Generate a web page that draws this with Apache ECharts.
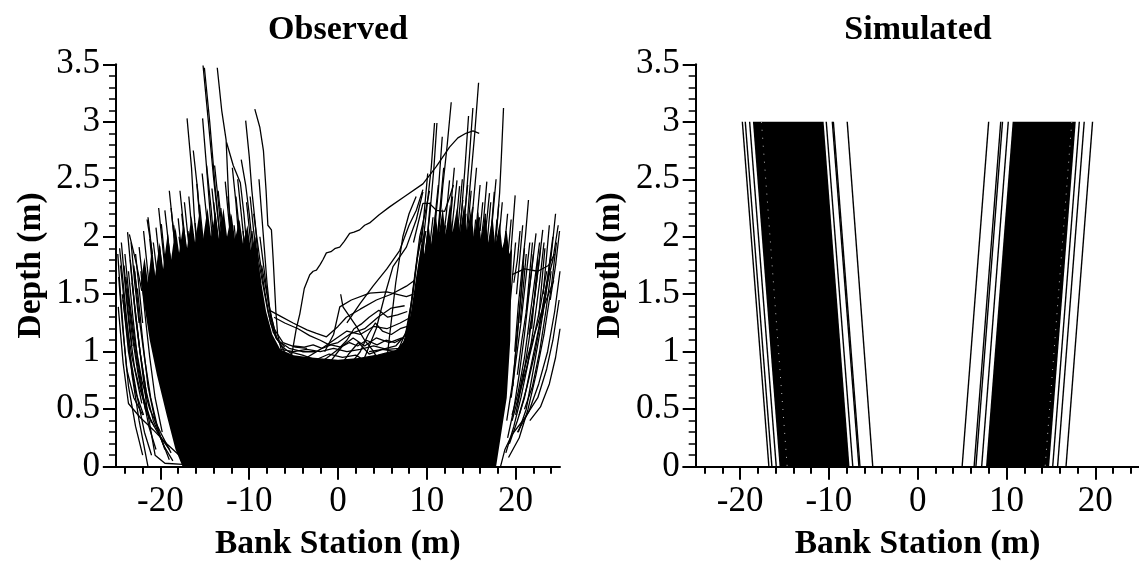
<!DOCTYPE html>
<html><head><meta charset="utf-8">
<script src="https://cdn.jsdelivr.net/npm/echarts@6/dist/echarts.min.js"></script>
<style>html,body{margin:0;padding:0;background:#fff}#c{width:1139px;height:561px}</style>
</head><body><div id="c"></div>
<script>
// ---- tick values ----
const xTickLabels = [-20, -10, 0, 10, 20];
const xMinorTicks = [-24, -22, -18, -16, -14, -12, -8, -6, -4, -2, 2, 4, 6, 8, 12, 14, 16, 18, 22, 24];
const yTickLabels = [0, 0.5, 1, 1.5, 2, 2.5, 3, 3.5];

// ---- Observed: dense core of overlapping profiles (outline) ----
const obsCore = [[-17.5,0],[-18.3,0.15],[-19.3,0.45],[-20.4,0.8],[-21.2,1.1],[-21.9,1.45],[-22.2,1.6],
 [-21.8,1.82],[-21.4,1.6],[-21.0,1.88],[-20.6,1.66],[-20.1,1.95],[-19.7,1.72],[-19.2,2.02],[-18.8,1.8],[-18.3,2.08],[-17.9,1.86],[-17.4,2.12],[-17.0,1.9],[-16.5,2.18],[-16.1,1.95],[-15.6,2.22],[-15.2,1.98],[-14.7,2.25],[-14.3,2.0],[-13.8,2.22],[-13.4,1.98],[-12.9,2.25],[-12.5,2.0],[-12.0,2.2],[-11.6,1.98],[-11.1,2.15],[-10.7,1.94],[-10.2,2.1],[-9.8,1.88],[-9.3,2.0],[-9.0,1.78],
 [-8.6,1.58],[-8.1,1.35],[-7.4,1.15],[-6.5,1.02],[-5,0.97],[-3,0.95],[0,0.93],[3,0.95],[5,0.98],[6.5,1.01],[7.5,1.1],[8.2,1.33],[8.7,1.6],[9.1,1.8],
 [9.5,2.0],[9.7,1.85],[10.2,2.1],[10.5,1.92],[11.0,2.2],[11.3,2.0],[11.8,2.25],[12.1,2.02],[12.6,2.28],[12.9,2.04],[13.4,2.25],[13.7,2.02],[14.2,2.28],[14.5,2.02],[15.0,2.25],[15.3,2.0],[15.8,2.22],[16.1,1.98],[16.6,2.2],[16.9,1.95],[17.4,2.18],[17.7,1.92],[18.2,2.12],[18.5,1.9],[19.0,2.05],[19.3,1.85],[19.6,1.9],
 [19.5,1.6],[19.4,1.1],[19,0.6],[18.3,0.25],[17.8,0]];

// ---- Observed: individual left-bank profiles ----
const obsLeftBank = [
 [[-15.2,3.49],[-14.6,3.0],[-14.0,2.5],[-13.3,2.0],[-12.8,1.7]],
 [[-15.05,3.47],[-14.45,3.0],[-13.8,2.4],[-13.1,1.85]],
 [[-13.6,3.47],[-13.1,3.1],[-12.6,2.84],[-12.3,2.3],[-12.0,1.8]],
 [[-12.55,2.82],[-11.8,2.62],[-11.0,2.47],[-10.6,2.2],[-10.2,1.85]],
 [[-17.0,3.03],[-16.5,2.6],[-16.2,2.2],[-15.8,1.8]],
 [[-15.25,3.03],[-14.8,2.6],[-14.4,2.2],[-14.0,1.85]],
 [[-10.4,3.01],[-10.0,2.7],[-9.7,2.4],[-9.3,2.1],[-9.0,1.8]],
 [[-9.37,3.11],[-8.8,2.95],[-8.4,2.75],[-8.1,2.4],[-7.9,2.1],[-7.5,2.06],[-7.3,1.8],[-7.0,1.35],[-6.8,1.15],[-6.4,1.02]],
 [[-10.9,2.67],[-10.4,2.45],[-10.0,2.2],[-9.6,1.9]],
 [[-21.4,2.17],[-21.0,1.9],[-20.6,1.6],[-20.2,1.3]],
 [[-23.7,2.04],[-23.3,1.7],[-22.8,1.3],[-22.3,1.0],[-21.5,0.6]],
 [[-24.6,1.9],[-24.2,1.6],[-23.7,1.2],[-23.2,0.8],[-22.4,0.4],[-21.4,0]],
 [[-19.9,2.11],[-19.5,1.8],[-19.1,1.5]],
 [[-19.5,2.23],[-19.1,1.95],[-18.7,1.7]],
 [[-17.6,2.2],[-17.2,1.9],[-16.8,1.7]],
 [[-15.9,2.46],[-15.5,2.1],[-15.1,1.8]],
 [[-14.8,2.62],[-14.3,2.25],[-13.9,1.9]],
 [[-12.7,2.48],[-12.3,2.15],[-11.9,1.85]],
 [[-22.4,1.91],[-22.1,1.7],[-21.7,1.4]],
 [[-18.5,2.1],[-18.1,1.8]],
 [[-16.8,2.35],[-16.4,2.0],[-16.0,1.8]],
 [[-13.5,2.4],[-13.1,2.1],[-12.8,1.85]],
 [[-11.5,2.35],[-11.1,2.05],[-10.8,1.85]],
 [[-12.2,2.2],[-11.8,1.9]],
 [[-14.0,2.3],[-13.6,2.0]],
 [[-17.9,2.0],[-17.5,1.75]],
 [[-9.9,2.35],[-9.5,2.05],[-9.1,1.8],[-8.7,1.6]],
 [[-20.8,1.95],[-20.4,1.7]],
 [[-23.0,1.75],[-22.6,1.5]],
 [[-24.8,1.85],[-24.5,1.5],[-24.1,1.1],[-23.6,0.7],[-22.8,0.35],[-22,0.1]],
 [[-24.75,1.39],[-24.2,0.9],[-23.6,0.55],[-22.3,0.43],[-20.8,0.32],[-19.3,0.2],[-17.05,0.04]],
 [[-23.2,1.6],[-22.3,1.0],[-21.5,0.5],[-20.6,0.1],[-19.5,0.03],[-17.5,0.02]],
 [[-24.3,1.5],[-23.5,1.0],[-22.6,0.6],[-21.8,0.3],[-21.0,0.1]],
 [[-23.5,2.02],[-22.75,1.78],[-22.1,1.53]],
 [[-21.5,2.15],[-20.9,1.85]],
 [[-18.0,2.16],[-17.6,1.85]],
 [[-23.9,1.65],[-23.0,1.1],[-22.2,0.7],[-21.3,0.35],[-20.5,0.15]],
 [[-16.3,2.75],[-15.8,2.4],[-15.4,2.0]],
 [[-11.9,2.6],[-11.5,2.3],[-11.2,2.0]],
 [[-8.9,2.5],[-8.6,2.2],[-8.3,1.9],[-8.0,1.6],[-7.6,1.3],[-7.0,1.12],[-6.0,1.04]],
 [[-9.5,2.2],[-8.8,1.8],[-8.2,1.5],[-7.6,1.25],[-6.8,1.1],[-5.5,1.03],[-4,1.0],[-2.5,1.0]],
 [[-8.8,2.0],[-8.3,1.7],[-7.8,1.4],[-7.2,1.2],[-6.2,1.08],[-4.8,1.04],[-3.5,1.03]],
 [[-9.2,1.9],[-8.5,1.6],[-7.9,1.35],[-7.3,1.17],[-6.4,1.05],[-5.2,0.98]],
 [[-8.6,1.75],[-8.0,1.5],[-7.5,1.3],[-6.9,1.12],[-6.0,1.0]],
 // fringe above the left core
 [[-21.9,2.05],[-21.5,1.75],[-21.1,1.45]],
 [[-21.2,1.98],[-20.8,1.68],[-20.4,1.4]],
 [[-20.5,2.08],[-20.1,1.78],[-19.7,1.5]],
 [[-20.1,1.92],[-19.7,1.62],[-19.3,1.35]],
 [[-19.2,2.02],[-18.8,1.72],[-18.4,1.45]],
 [[-18.8,2.25],[-18.4,1.95],[-18.0,1.66]],
 [[-18.3,1.98],[-17.9,1.68],[-17.5,1.4]],
 [[-17.3,2.3],[-16.9,2.0],[-16.5,1.7]],
 [[-16.9,2.05],[-16.5,1.75],[-16.1,1.45]],
 [[-16.1,2.12],[-15.7,1.82],[-15.3,1.52]],
 [[-15.6,2.28],[-15.2,1.98],[-14.8,1.7]],
 [[-15.3,2.55],[-14.9,2.25],[-14.5,1.95]],
 [[-14.6,2.1],[-14.2,1.8],[-13.8,1.5]],
 [[-14.2,2.42],[-13.8,2.12],[-13.4,1.82]],
 [[-13.9,2.62],[-13.5,2.32],[-13.1,2.0]],
 [[-13.2,2.25],[-12.8,1.95],[-12.4,1.65]],
 [[-12.9,2.05],[-12.5,1.75],[-12.1,1.45]],
 [[-12.4,2.35],[-12.0,2.05],[-11.6,1.75]],
 [[-11.7,2.1],[-11.3,1.8],[-10.9,1.5]],
 [[-11.3,2.5],[-10.9,2.2],[-10.5,1.9]],
 [[-10.7,2.05],[-10.3,1.75],[-9.9,1.5]],
 [[-10.3,2.3],[-9.9,2.0],[-9.5,1.72]],
 [[-9.7,2.05],[-9.3,1.78],[-8.9,1.5]],
 [[-16.5,1.98],[-16.1,1.68],[-15.7,1.4]],
 [[-17.8,2.4],[-17.4,2.1],[-17.0,1.8]],
 [[-19.0,2.4],[-18.6,2.1],[-18.2,1.8]],
 [[-20.2,2.25],[-19.8,1.95],[-19.4,1.65]],
 [[-22.8,1.85],[-22.4,1.55],[-22.0,1.25]],
 [[-23.3,1.95],[-22.9,1.6],[-22.4,1.25]],
 [[-24.1,1.75],[-23.7,1.4],[-23.2,1.05]],
 // hatch on the outer left slope
 [[-24.5,1.75],[-23.9,1.3],[-23.2,0.95],[-22.4,0.7],[-21.4,0.45],[-20.2,0.28],[-19,0.15]],
 [[-24.0,1.85],[-23.5,1.45],[-22.9,1.1],[-22.1,0.75],[-21.2,0.5],[-20.0,0.3],[-18.8,0.12]],
 [[-23.4,1.8],[-22.9,1.4],[-22.3,1.0],[-21.6,0.65],[-20.8,0.4],[-19.6,0.18],[-18.6,0.05]],
 [[-22.9,1.7],[-22.4,1.3],[-21.8,0.95],[-21.1,0.6],[-20.2,0.3],[-19.0,0.06]],
 [[-24.7,1.65],[-24.3,1.25],[-23.8,0.85],[-23.0,0.6],[-22.0,0.45]],
 [[-23.8,1.55],[-23.2,1.15],[-22.5,0.8],[-21.7,0.5],[-20.7,0.35]],
 [[-24.2,1.45],[-23.6,1.0],[-22.8,0.65],[-21.9,0.45]],
 [[-22.6,1.55],[-22.0,1.1],[-21.4,0.7],[-20.6,0.4],[-19.5,0.15]],
 [[-24.4,1.95],[-24.0,1.6],[-23.5,1.2],[-22.9,0.85],[-22.1,0.55]],
 [[-23.6,1.7],[-23.1,1.3],[-22.6,0.95],[-21.9,0.6],[-21.0,0.38]],
 [[-22.2,1.7],[-21.7,1.3],[-21.2,0.95],[-20.6,0.6],[-19.8,0.3]]
];

// ---- Observed: profiles crossing the channel centre ----
const obsCentre = [
 [[-5.4,0.9],[-5.06,1.04],[-4.7,1.2],[-4.3,1.33],[-3.8,1.55],[-3.18,1.67],[-2.8,1.7],[-2.43,1.71],[-2.0,1.76],[-1.7,1.8],[-1.31,1.86],[-0.8,1.87],[-0.3,1.9],[0.19,1.91],[0.7,1.96],[1.31,2.03],[1.8,2.04],[2.44,2.06],[3.0,2.1],[3.56,2.12],[4.6,2.19],[5.81,2.26],[7.5,2.35],[9.56,2.46],[11.06,2.61],[12.56,2.78],[13.5,2.86],[14.4,2.9],[15.2,2.92],[15.9,2.9]],
 [[1.0,1.25],[2.5,1.42],[3.94,1.57],[5.5,1.72],[6.94,1.88],[8.0,2.1],[8.82,2.23],[9.56,2.41]],
 [[5.3,0.8],[5.6,1.0],[6.5,1.6],[7.3,2.0],[8.0,2.2],[8.8,2.35]],
 [[3.0,0.95],[4.3,1.2],[5.3,1.5],[6.19,1.74],[7.7,1.91],[8.82,2.15],[9.56,2.39]],
 [[-7.7,1.36],[-6.5,1.31],[-5.06,1.25],[-3.5,1.19],[-2.43,1.16],[-1.3,1.13],[0.0,1.22],[0.94,1.3],[2.5,1.37],[4.32,1.45],[6,1.5],[7.7,1.57],[8.6,1.62]],
 [[-1.5,1.0],[-0.5,1.15],[0.2,1.39],[1.5,1.45],[3.56,1.51],[5.5,1.52],[7.7,1.48],[8.5,1.5]],
 [[-3.5,0.95],[-2,1.02],[-0.5,1.1],[1,1.18],[2.5,1.15],[4,1.22],[5.5,1.2],[7,1.25],[8.2,1.3]],
 [[-1,0.9],[0.5,1.05],[1.7,1.12],[3,1.05],[4.3,1.12],[5.8,1.08],[7.2,1.12]],
 [[0,0.85],[1.2,0.98],[2.3,1.08],[3.5,0.98],[5,1.02],[6.5,1.0],[7.8,1.05]],
 [[-5.5,1.0],[-4,0.97],[-2.5,0.93],[-1,0.98],[0.5,0.95],[2,0.97],[3.5,0.9],[5,0.95],[6.5,0.93],[8,0.98]],
 [[-6.5,1.02],[-5,1.0],[-3.5,1.02],[-2,1.0],[-0.5,1.03],[1,1.0],[2.5,1.02],[4,1.05],[5.5,1.02],[7,1.03],[7.8,1.1]],
 [[-7.2,1.3],[-6,1.25],[-4.5,1.2],[-3.2,1.14],[-2,1.1],[-1,1.06],[0,1.08],[1.5,1.16],[3,1.2],[4.5,1.3],[6,1.38],[7.5,1.4]],
 [[0.3,1.5],[0.56,1.39],[2.07,1.22],[3.0,1.1],[3.94,1.01],[4.6,0.92]],
 [[-6,0.95],[-4.5,0.92],[-3,0.9],[-1.5,0.88],[0,0.9],[1.5,0.92],[3,0.95],[4.5,0.97],[6,1.0],[7.2,1.02]],
 [[-5,1.05],[-3.8,1.04],[-2.8,1.06],[-1.8,1.03],[-0.8,1.06],[0.3,1.04],[1.3,1.08],[2.2,1.05],[3.2,1.1],[4.4,1.06],[5.4,1.1],[6.4,1.08],[7.4,1.12]],
 [[1.5,0.9],[2.5,1.0],[3.4,1.15],[4.2,1.25],[5,1.18],[6,1.15],[7,1.2],[7.8,1.22]],
 [[-2.5,0.88],[-1.2,0.95],[0,1.02],[1,1.1],[1.8,1.2],[2.6,1.24],[3.5,1.3],[4.6,1.36],[5.6,1.3],[6.7,1.32],[7.8,1.35]],
 [[3.5,1.0],[5,1.02],[6.5,1.05],[7.6,1.15],[8.2,1.4],[8.7,1.7],[9.2,2.0],[9.8,2.2],[10.3,2.4]],
 [[6,0.98],[7.3,1.05],[8,1.25],[8.5,1.55],[9.0,1.85],[9.6,2.1]],
 [[5.5,0.95],[6.8,1.02],[7.8,1.2],[8.4,1.5],[8.9,1.8],[9.5,2.05]],
 [[7,1.0],[7.9,1.15],[8.6,1.45],[9.2,1.75],[9.9,2.05]],
 [[8.5,1.95],[9.56,2.29],[10.3,2.29],[11.07,2.23],[12,2.22],[12.6,2.35],[13,2.45]]
];

// ---- Observed: individual right-bank profiles ----
const obsRightBank = [
 [[15.83,3.34],[15.4,2.9],[14.8,2.38],[14.25,1.8]],
 [[12.75,3.17],[12.3,2.8],[11.8,2.44],[11.3,2.0]],
 [[10.87,2.99],[10.5,2.6],[10.0,2.25],[9.5,1.9]],
 [[11.14,2.99],[10.8,2.6],[10.35,2.2],[9.9,1.9]],
 [[15.19,3.12],[14.8,2.7],[14.3,2.2],[13.9,1.9]],
 [[18.64,3.12],[18.4,2.7],[18.2,2.38],[17.8,2.0],[17.5,1.7]],
 [[11.74,2.87],[11.3,2.4],[10.8,2.0]],
 [[13.4,2.49],[13.0,2.2],[12.6,1.9]],
 [[16.76,2.48],[16.4,2.15],[16.0,1.9]],
 [[17.6,2.39],[17.3,2.1],[17,1.9]],
 [[19.95,2.36],[19.6,2.0],[19.3,1.7]],
 [[21.45,2.32],[21.1,2.0],[20.7,1.7],[20.3,1.4],[19.9,1.0]],
 [[24.5,2.2],[24.1,1.9],[23.6,1.6],[23.0,1.3]],
 [[12.56,2.49],[12.2,2.2],[11.8,1.95]],
 [[14.06,2.32],[13.7,2.05],[13.4,1.85]],
 [[15.94,2.17],[15.6,1.95]],
 [[19.1,2.2],[18.8,1.95],[18.5,1.75]],
 [[15.19,2.26],[14.9,2.0]],
 [[17.06,2.38],[16.7,2.1],[16.4,1.9]],
 [[13.69,2.44],[13.3,2.1],[13,1.9]],
 [[10.7,2.17],[10.3,1.9],[9.9,1.7]],
 [[11.3,2.45],[10.9,2.15],[10.5,1.9]],
 [[14.6,2.45],[14.2,2.15],[13.9,1.95]],
 [[18.1,2.28],[17.8,2.0]],
 [[20.5,2.05],[20.2,1.8],[19.8,1.6]],
 [[16.3,2.3],[16.0,2.05]],
 [[14.7,3.05],[14.3,2.6],[13.9,2.2],[13.5,1.9]],
 [[24.9,1.45],[24.2,1.1],[23.5,0.85],[22.5,0.6],[21,0.42],[19.6,0.28],[18.8,0.15],[18.3,0]],
 [[24.3,1.62],[22.9,1.34],[21.7,1.05],[20.8,0.8],[20.2,0.55]],
 [[24.8,2.1],[24.2,1.8],[23.4,1.55],[22.6,1.2],[21.8,0.9],[21,0.6],[20.2,0.4],[19.3,0.2]],
 [[23.5,1.7],[22.8,1.4],[22,1.1],[21.2,0.85],[20.3,0.6],[19.6,0.4]],
 [[22.3,2.03],[21.8,1.7],[21.3,1.4],[20.7,1.1],[20.2,0.8]],
 [[23.06,2.06],[22.6,1.75],[22.1,1.45],[21.5,1.15]],
 [[24,1.86],[23.4,1.5],[22.7,1.15],[21.9,0.8],[21.2,0.5],[20.3,0.3]],
 [[19.6,1.67],[21,1.72],[22.5,1.7],[23.7,1.75],[24.4,1.85]],
 [[24.95,2.05],[24.5,1.75],[23.9,1.45]],
 [[21,1.9],[20.6,1.5],[20.1,1.1],[19.7,0.7]],
 [[22.8,1.9],[22.2,1.5],[21.5,1.1],[20.8,0.75],[20,0.45]],
 // fringe above the right core
 [[9.8,2.05],[9.45,1.75],[9.1,1.5]],
 [[10.4,2.3],[10.05,2.0],[9.7,1.7]],
 [[11.0,2.2],[10.65,1.9],[10.3,1.6]],
 [[11.6,2.3],[11.25,2.0],[10.9,1.7]],
 [[12.1,2.1],[11.75,1.8],[11.4,1.5]],
 [[12.9,2.35],[12.55,2.05],[12.2,1.75]],
 [[13.3,2.15],[12.95,1.85],[12.6,1.55]],
 [[14.0,2.5],[13.65,2.2],[13.3,1.9]],
 [[14.4,2.2],[14.05,1.9],[13.7,1.6]],
 [[15.0,2.4],[14.65,2.1],[14.3,1.8]],
 [[15.5,2.15],[15.15,1.85],[14.8,1.55]],
 [[16.0,2.45],[15.65,2.15],[15.3,1.85]],
 [[16.6,2.2],[16.25,1.9],[15.9,1.6]],
 [[17.2,2.3],[16.85,2.0],[16.5,1.7]],
 [[17.9,2.15],[17.55,1.85],[17.2,1.55]],
 [[18.5,2.3],[18.15,2.0],[17.8,1.7]],
 [[18.9,2.05],[18.55,1.75],[18.2,1.45]],
 [[19.5,2.15],[19.15,1.85],[18.8,1.55]],
 [[20.0,1.95],[19.65,1.65],[19.3,1.35]],
 [[20.8,2.1],[20.45,1.8],[20.1,1.5]],
 [[21.2,1.85],[20.85,1.55],[20.5,1.25]],
 [[21.9,1.95],[21.55,1.65],[21.2,1.35]],
 [[22.5,1.8],[22.15,1.5],[21.8,1.2]],
 [[23.3,1.9],[22.95,1.6],[22.6,1.3]],
 [[23.8,2.1],[23.45,1.8],[23.1,1.5]],
 [[13.1,2.6],[12.75,2.3],[12.4,2.0]],
 [[15.6,2.6],[15.25,2.3],[14.9,2.0]],
 [[17.8,2.5],[17.45,2.2],[17.1,1.9]],
 [[11.9,2.6],[11.55,2.3],[11.2,2.0]],
 [[10.1,2.55],[9.75,2.25],[9.4,1.95]],
 // hatch on the outer right slope
 [[24.6,1.95],[24.0,1.55],[23.2,1.15],[22.3,0.8],[21.4,0.5],[20.4,0.25],[19.2,0.08]],
 [[25.0,1.7],[24.4,1.35],[23.6,1.0],[22.6,0.72],[21.5,0.48],[20.2,0.3]],
 [[23.2,1.95],[22.7,1.6],[22.1,1.25],[21.4,0.9],[20.6,0.6],[19.8,0.35],[18.9,0.12]],
 [[22.0,1.85],[21.5,1.5],[21.0,1.15],[20.4,0.8],[19.8,0.5],[19.1,0.25]],
 [[24.2,2.0],[23.7,1.7],[23.0,1.35],[22.2,1.0],[21.3,0.7],[20.4,0.45]],
 [[20.9,1.75],[20.5,1.4],[20.1,1.05],[19.6,0.7],[19.0,0.4]],
 [[25.0,1.2],[24.5,0.95],[23.8,0.72],[22.8,0.52],[21.6,0.4]],
 [[21.6,1.95],[21.1,1.6],[20.6,1.25],[20.0,0.9],[19.5,0.6]],
 [[22.7,1.95],[22.2,1.65],[21.6,1.3],[21.0,0.95],[20.3,0.65],[19.6,0.45]],
 [[24.0,1.7],[23.4,1.35],[22.7,1.0],[21.9,0.7],[21.0,0.5]]
];

// ---- Simulated: straight bank lines from depth 3 m to bed ----
const simTopDepth = 3;
const simBedDepth = 0;
const simLeftTopX = [-19.75, -19.42, -18.93, -10.3, -9.62, -9.5, -7.94];
const simLeftBedX = [-16.76, -16.42, -15.93, -7.31, -6.62, -6.5, -5.06];
const simRightTopX = [7.99, 9.35, 9.55, 10.2, 18.2, 18.75, 19.69];
const simRightBedX = [5.0, 6.35, 6.55, 7.2, 15.2, 15.75, 16.7];
// dense bands (edges of the many overlapping simulated lines)
const simBandTopX = [[-18.56, -10.6], [10.69, 17.8]];
const simBandBedX = [[-15.56, -7.68], [7.69, 14.8]];
const simGapTopX = [-17.6, 17.35];
const simGapBedX = [-14.7, 14.35];

const FONT = 'Liberation Serif';
const chart = echarts.init(document.getElementById('c'), null, {renderer: 'canvas'});

const grids = [
  {left: 103.6, top: 64.3, width: 456.4, height: 402.4, containLabel: false, outerBoundsMode: 'none'},
  {left: 683.3, top: 64.3, width: 456.4, height: 402.4, containLabel: false, outerBoundsMode: 'none'}
];

function xMajor(g) {
  return {
    type: 'value', gridIndex: g, min: -26.4, max: 25, position: 'bottom',
    axisLine: {show: true, onZero: false, lineStyle: {color: '#000', width: 2}},
    axisTick: {show: true, length: 13, customValues: xTickLabels, lineStyle: {color: '#000', width: 2}},
    axisLabel: {show: true, customValues: xTickLabels, color: '#000', fontFamily: FONT, fontSize: 35, margin: 18, formatter: v => String(v)},
    splitLine: {show: false},
    name: 'Bank Station (m)', nameLocation: 'middle', nameGap: 61,
    nameTextStyle: {fontFamily: FONT, fontWeight: 'bold', fontSize: 33.5, color: '#000', padding: [0, 0, 0, 12]}
  };
}
function xMinor(g) {
  return {
    type: 'value', gridIndex: g, min: -26.4, max: 25, position: 'bottom',
    axisLine: {show: false, onZero: false},
    axisTick: {show: true, length: 7, customValues: xMinorTicks, lineStyle: {color: '#000', width: 2}},
    axisLabel: {show: false},
    splitLine: {show: false}
  };
}
function yAx(g) {
  return {
    type: 'value', gridIndex: g, min: 0, max: 3.5, interval: 0.5, position: 'left', offset: -12.4,
    axisLine: {show: true, onZero: false, lineStyle: {color: '#000', width: 2}},
    axisTick: {show: true, length: 13, lineStyle: {color: '#000', width: 2}},
    minorTick: {show: true, splitNumber: 5, length: 7, lineStyle: {color: '#000', width: 1.5}},
    axisLabel: {color: '#000', fontFamily: FONT, fontSize: 35, margin: 16},
    splitLine: {show: false}, minorSplitLine: {show: false},
    name: 'Depth (m)', nameLocation: 'middle', nameGap: 68, nameRotate: 90,
    nameTextStyle: {fontFamily: FONT, fontWeight: 'bold', fontSize: 33.5, color: '#000'}
  };
}

function lineSeries(pts, xi, yi, width) {
  return {
    type: 'line', xAxisIndex: xi, yAxisIndex: yi, data: pts,
    symbol: 'none', showSymbol: false, silent: true, animation: false,
    lineStyle: {color: '#000', width: width}, z: 3
  };
}
function polySeries(poly, xi, yi) {
  return {
    type: 'custom', xAxisIndex: xi, yAxisIndex: yi, data: [[poly[0][0], poly[0][1]]],
    silent: true, animation: false, z: 2,
    renderItem: (params, api) => ({
      type: 'polygon',
      shape: {points: poly.map(p => api.coord(p))},
      style: {fill: '#000'}
    })
  };
}

const series = [];
// observed
series.push(polySeries(obsCore, 0, 0));
[...obsLeftBank, ...obsCentre, ...obsRightBank].forEach(p => series.push(lineSeries(p, 0, 0, 1.3)));
// simulated
simBandTopX.forEach((t, i) => {
  const b = simBandBedX[i];
  series.push(polySeries([[t[0], simTopDepth], [t[1], simTopDepth], [b[1], simBedDepth], [b[0], simBedDepth]], 2, 1));
});
simLeftTopX.forEach((t, i) => series.push(lineSeries([[t, simTopDepth], [simLeftBedX[i], simBedDepth]], 2, 1, 1.4)));
simRightTopX.forEach((t, i) => series.push(lineSeries([[t, simTopDepth], [simRightBedX[i], simBedDepth]], 2, 1, 1.4)));
simGapTopX.forEach((t, i) => {
  const s = lineSeries([[t, simTopDepth], [simGapBedX[i], simBedDepth]], 2, 1, 1);
  s.lineStyle = {color: '#bbb', width: 1, type: [1, 7]};
  s.z = 4;
  series.push(s);
});

chart.setOption({
  animation: false,
  backgroundColor: '#fff',
  title: [
    {text: 'Observed', left: 333, top: 8, textAlign: 'center', textStyle: {fontFamily: FONT, fontWeight: 'bold', fontSize: 34, color: '#000'}},
    {text: 'Simulated', left: 913, top: 8, textAlign: 'center', textStyle: {fontFamily: FONT, fontWeight: 'bold', fontSize: 34, color: '#000'}}
  ],
  grid: grids,
  xAxis: [xMajor(0), xMinor(0), xMajor(1), xMinor(1)],
  yAxis: [yAx(0), yAx(1)],
  series: series
});
</script>
</body></html>
